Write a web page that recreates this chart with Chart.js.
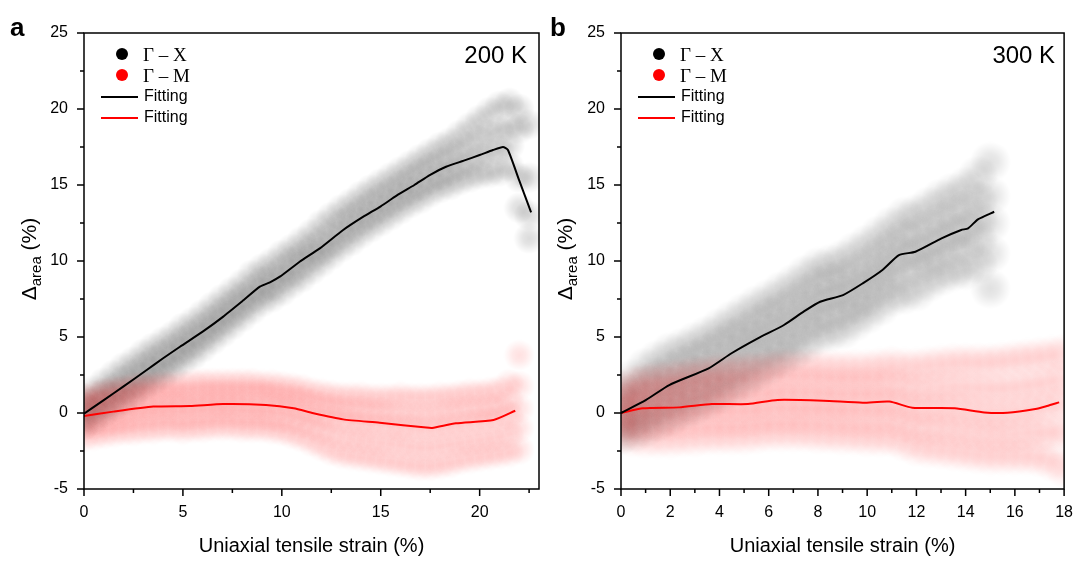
<!DOCTYPE html>
<html>
<head>
<meta charset="utf-8">
<script src="https://cdn.jsdelivr.net/npm/chart.js@4.4.1/dist/chart.umd.min.js"></script>
<style>
  body { margin: 0; background: #fff; }
  canvas { position: absolute; top: 0; }
</style>
</head>
<body>
<canvas id="chartA" width="543" height="561" style="left:0"></canvas>
<canvas id="chartB" width="544" height="561" style="left:543px"></canvas>
<script>
// tick values
const yTicks = [-5, 0, 5, 10, 15, 20, 25];
const yMinor = [-2.5, 2.5, 7.5, 12.5, 17.5, 22.5];
const xTicksA = [0, 5, 10, 15, 20];
const xMinorA = [2.5, 7.5, 12.5, 17.5, 22.5];
const xTicksB = [0, 2, 4, 6, 8, 10, 12, 14, 16, 18];
const xMinorB = [1, 3, 5, 7, 9, 11, 13, 15, 17];

// fitting curves, 200 K
const gxFitA = [[0,-0.05],[1,0.85],[2,1.75],[3.17,2.83],[4,3.6],[4.85,4.36],[6,5.35],[7.04,6.34],[8,7.35],[8.89,8.31],[9.4,8.6],[9.9,8.97],[10.9,9.95],[11.92,10.83],[13.1,12.04],[14.1,12.9],[15,13.6],[15.8,14.3],[16.7,15.0],[17.5,15.66],[18.3,16.2],[19.2,16.6],[20,16.97],[20.67,17.3],[21.18,17.5],[21.43,17.3],[22.0,15.3],[22.6,13.2]];
const gmFitA = [[0,-0.2],[1.48,0.09],[3.5,0.42],[5.35,0.46],[7.04,0.59],[9.2,0.53],[10.6,0.31],[11.6,-0.02],[13.1,-0.42],[14.95,-0.64],[17.3,-0.96],[17.6,-0.98],[18.8,-0.68],[20.7,-0.46],[21.8,0.15]];

// fitting curves, 300 K
const gxFitB = [[0,0],[1.02,0.86],[1.96,1.84],[3.56,2.94],[4.49,3.93],[5.56,4.91],[6.62,5.79],[7.42,6.67],[8.09,7.32],[9.02,7.76],[9.82,8.53],[10.62,9.41],[11.29,10.39],[11.96,10.61],[13.02,11.49],[13.82,12.04],[14.1,12.15],[14.5,12.74],[15.16,13.24]];
const gmFitB = [[0,0],[0.89,0.31],[2.36,0.37],[3.69,0.59],[5.16,0.59],[6.36,0.86],[8.22,0.81],[9.82,0.68],[10.9,0.75],[11.83,0.35],[13.56,0.31],[14.76,0.04],[15.7,0.02],[16.77,0.24],[17.3,0.46],[17.8,0.7]];

// measured scatter, 200 K: [strain, values...]
const gxDotsA = [
  [0,-0.8,-0.2,0.4,1.0],[0.5,-0.5,0.2,0.8,1.5],[1,0.0,0.6,1.3,2.0],[1.5,0.4,1.1,1.7,2.5],
  [2,0.8,1.5,2.2,3.0],[2.5,1.2,1.9,2.6,3.4],[3,1.7,2.4,3.1,3.9],[3.5,2.1,2.8,3.5,4.3],
  [4,2.5,3.2,3.9,4.7],[4.5,2.9,3.6,4.3,5.1],[5,3.4,4.1,4.8,5.6],[5.5,3.8,4.5,5.2,6.0],
  [6,4.3,5.0,5.7,6.5],[6.5,4.8,5.5,6.2,7.0],[7,5.3,6.0,6.7,7.5],[7.5,5.8,6.5,7.2,8.0],
  [8,6.3,7.0,7.7,8.5],[8.5,6.8,7.5,8.2,9.1],[9,7.3,8.0,8.7,9.5],[9.5,7.6,8.3,9.0,9.9],
  [10,8.0,8.8,9.5,10.4],[10.5,8.5,9.2,10.0,10.8],[11,8.9,9.7,10.4,11.3],[11.5,9.4,10.2,10.9,11.8],
  [12,9.9,10.6,11.4,12.4],[12.5,10.4,11.1,11.9,12.9],[13,10.9,11.7,12.5,13.4],[13.5,11.3,12.1,12.9,13.8],
  [14,11.8,12.6,13.4,14.3],[14.5,12.2,13.0,13.8,14.7],[15,12.6,13.4,14.2,15.1],[15.5,13.0,13.8,14.6,15.5],
  [16,13.4,14.2,15.0,15.9],[16.5,13.8,14.6,15.4,16.3],[17,14.1,14.9,15.8,16.7],[17.5,14.5,15.3,16.2,17.1],
  [18,14.8,15.6,16.5,17.5],[18.5,15.0,15.9,16.8,17.8],[19,15.3,16.2,17.2,18.3],[19.5,15.5,16.5,17.6,18.8],
  [20,15.7,16.8,18.0,19.3],[20.5,15.8,17.1,18.4,19.8],[21,15.9,17.3,18.6,20.2],[21.5,16.2,17.6,18.9,20.4],
  [22,13.5,15.5,18.7,20.0],[22.5,11.5,13.0,15.5,19.0]
];
const gmDotsA = [
  [0,-1.6,-0.9,-0.3,0.4,1.0],[0.5,-1.5,-0.8,-0.1,0.6,1.2],[1,-1.4,-0.7,0.0,0.7,1.4],[1.5,-1.3,-0.6,0.1,0.8,1.5],
  [2,-1.2,-0.5,0.2,0.9,1.6],[2.5,-1.2,-0.4,0.3,1.0,1.7],[3,-1.1,-0.3,0.4,1.1,1.8],[3.5,-1.1,-0.3,0.4,1.1,1.8],
  [4,-1.0,-0.2,0.5,1.2,1.9],[4.5,-1.0,-0.2,0.5,1.2,1.9],[5,-1.1,-0.3,0.5,1.2,1.9],[5.5,-1.0,-0.2,0.5,1.2,2.0],
  [6,-1.0,-0.2,0.6,1.3,2.0],[6.5,-0.9,-0.1,0.6,1.3,2.0],[7,-0.9,-0.1,0.6,1.3,2.0],[7.5,-0.9,-0.1,0.6,1.3,2.0],
  [8,-1.0,-0.2,0.6,1.3,2.0],[8.5,-1.0,-0.2,0.5,1.3,2.0],[9,-1.0,-0.2,0.5,1.3,1.9],[9.5,-1.1,-0.3,0.5,1.2,1.9],
  [10,-1.2,-0.4,0.4,1.1,1.8],[10.5,-1.4,-0.5,0.3,1.0,1.7],[11,-1.6,-0.7,0.1,0.9,1.6],[11.5,-1.9,-0.9,-0.1,0.7,1.4],
  [12,-2.2,-1.2,-0.3,0.5,1.3],[12.5,-2.5,-1.4,-0.4,0.4,1.2],[13,-2.7,-1.6,-0.5,0.3,1.1],[13.5,-2.8,-1.7,-0.6,0.2,1.1],
  [14,-2.9,-1.8,-0.7,0.2,1.1],[14.5,-3.0,-1.9,-0.8,0.1,1.0],[15,-3.1,-2.0,-0.8,0.1,1.0],[15.5,-3.2,-2.0,-0.9,0.0,1.0],
  [16,-3.3,-2.1,-1.0,0.0,1.1],[16.5,-3.4,-2.2,-1.0,-0.1,1.0],[17,-3.5,-2.3,-1.1,-0.1,1.0],[17.5,-3.5,-2.3,-1.1,-0.1,1.0],
  [18,-3.4,-2.2,-1.0,0.0,1.1],[18.5,-3.3,-2.1,-0.9,0.1,1.1],[19,-3.1,-2.0,-0.8,0.2,1.2],[19.5,-3.0,-1.9,-0.7,0.3,1.3],
  [20,-2.9,-1.8,-0.6,0.3,1.3],[20.5,-2.8,-1.7,-0.5,0.4,1.4],[21,-2.7,-1.6,-0.4,0.5,1.5],[21.5,-2.6,-1.4,-0.2,0.8,1.9],
  [22,-2.4,-1.0,0.3,1.8,3.8]
];

// measured scatter, 300 K
const gxDotsB = [
  [0,-1.5,-0.7,0.0,0.8,1.6],[0.5,-1.3,-0.5,0.4,1.3,2.3],[1,-1.0,-0.1,0.9,1.9,3.0],[1.5,-0.6,0.4,1.4,2.4,3.5],
  [2,-0.3,0.8,1.8,2.8,4.0],[2.5,0.1,1.2,2.2,3.2,4.3],[3,0.4,1.5,2.6,3.6,4.7],[3.5,0.8,1.9,2.9,4.0,5.1],
  [4,1.2,2.3,3.4,4.5,5.6],[4.5,1.7,2.8,3.9,5.0,6.1],[5,2.1,3.3,4.4,5.4,6.6],[5.5,2.6,3.8,4.9,5.9,7.1],
  [6,3.1,4.2,5.3,6.4,7.5],[6.5,3.5,4.6,5.7,6.8,8.0],[7,4.0,5.1,6.2,7.3,8.5],[7.5,4.5,5.7,6.8,7.9,9.1],
  [8,5.1,6.2,7.3,8.4,9.6],[8.5,5.3,6.5,7.6,8.7,9.8],[9,5.5,6.7,7.8,8.9,10.1],[9.5,6.0,7.1,8.2,9.3,10.6],
  [10,6.5,7.6,8.7,9.8,11.1],[10.5,7.0,8.2,9.3,10.4,11.7],[11,7.6,8.8,9.9,11.0,12.3],[11.5,7.8,9.2,10.5,11.6,12.9],
  [12,8.0,9.5,10.6,11.8,13.1],[12.5,8.6,9.9,11.0,12.2,13.6],[13,9.0,10.3,11.5,12.7,14.1],[13.5,9.3,10.7,11.9,13.1,14.5],
  [14,9.4,10.9,12.1,13.4,14.9],[14.5,9.8,11.4,12.7,14.0,15.6],[15,8.2,10.5,12.5,14.3,16.5]
];
const gmDotsB = [
  [0,-1.4,-0.6,0.0,0.7,1.5],[0.5,-1.6,-0.6,0.2,1.0,1.9],[1,-1.7,-0.6,0.3,1.2,2.1],[1.5,-1.7,-0.6,0.3,1.2,2.2],
  [2,-1.7,-0.6,0.4,1.3,2.3],[2.5,-1.6,-0.5,0.4,1.4,2.4],[3,-1.6,-0.5,0.5,1.5,2.5],[3.5,-1.5,-0.4,0.6,1.6,2.6],
  [4,-1.5,-0.4,0.6,1.6,2.7],[4.5,-1.5,-0.4,0.6,1.6,2.7],[5,-1.5,-0.4,0.6,1.7,2.8],[5.5,-1.4,-0.3,0.7,1.7,2.8],
  [6,-1.3,-0.2,0.8,1.8,2.9],[6.5,-1.3,-0.2,0.9,1.9,3.0],[7,-1.3,-0.2,0.8,1.9,3.0],[7.5,-1.3,-0.2,0.8,1.9,3.0],
  [8,-1.4,-0.2,0.8,1.9,3.0],[8.5,-1.4,-0.3,0.7,1.8,2.9],[9,-1.5,-0.3,0.7,1.8,2.9],[9.5,-1.5,-0.4,0.7,1.8,2.9],
  [10,-1.6,-0.4,0.7,1.8,2.9],[10.5,-1.6,-0.4,0.7,1.8,3.0],[11,-1.6,-0.4,0.7,1.9,3.1],[11.5,-1.9,-0.7,0.5,1.7,3.0],
  [12,-2.2,-0.9,0.3,1.6,3.0],[12.5,-2.3,-1.0,0.3,1.6,3.1],[13,-2.4,-1.0,0.3,1.7,3.2],[13.5,-2.5,-1.1,0.3,1.7,3.3],
  [14,-2.6,-1.2,0.2,1.7,3.3],[14.5,-2.7,-1.3,0.1,1.6,3.3],[15,-2.8,-1.4,0.0,1.6,3.3],[15.5,-2.8,-1.4,0.0,1.6,3.4],
  [16,-2.8,-1.4,0.1,1.7,3.5],[16.5,-2.8,-1.3,0.2,1.8,3.6],[17,-2.9,-1.3,0.3,1.9,3.7],[17.5,-3.2,-1.3,0.5,2.1,3.8],
  [18,-3.6,-1.2,0.7,2.3,3.9]
];

const SANS = '"Liberation Sans", Arial, sans-serif';
const SERIF = '"Liberation Serif", "Times New Roman", serif';

function toPoints(pairs) {
  return pairs.map(p => ({ x: p[0], y: p[1] }));
}

function dots(stations) {
  const pts = [];
  stations.forEach(s => s.slice(1).forEach(v => pts.push({ x: s[0], y: v })));
  return pts;
}

// soft round marker so overlapping points read as a hazy cloud
function softDot(rgb, alpha, r) {
  const c = document.createElement('canvas');
  c.width = c.height = r * 2;
  const g = c.getContext('2d');
  const grad = g.createRadialGradient(r, r, 0, r, r, r);
  grad.addColorStop(0, 'rgba(' + rgb + ',' + alpha + ')');
  grad.addColorStop(0.4, 'rgba(' + rgb + ',' + (alpha * 0.75) + ')');
  grad.addColorStop(0.75, 'rgba(' + rgb + ',' + (alpha * 0.3) + ')');
  grad.addColorStop(1, 'rgba(' + rgb + ',0)');
  g.fillStyle = grad;
  g.fillRect(0, 0, r * 2, r * 2);
  return c;
}

// frame, tick marks, legend and labels drawn on top of the chart
function panelPlugin(p) {
  return {
    id: 'panelDeco',
    afterDraw(chart) {
      const ctx = chart.ctx;
      const { left, right, top, bottom } = chart.chartArea;
      const xs = chart.scales.x, ys = chart.scales.y;
      ctx.save();
      ctx.strokeStyle = '#000';
      ctx.lineWidth = 1.5;
      ctx.strokeRect(left, top, right - left, bottom - top);

      ctx.beginPath();
      p.xTicks.forEach(v => { const px = xs.getPixelForValue(v); ctx.moveTo(px, bottom); ctx.lineTo(px, bottom + 7); });
      p.xMinor.forEach(v => { const px = xs.getPixelForValue(v); ctx.moveTo(px, bottom); ctx.lineTo(px, bottom + 4); });
      yTicks.forEach(v => { const py = ys.getPixelForValue(v); ctx.moveTo(left, py); ctx.lineTo(left - 7, py); });
      yMinor.forEach(v => { const py = ys.getPixelForValue(v); ctx.moveTo(left, py); ctx.lineTo(left - 4, py); });
      ctx.stroke();

      // legend
      ctx.fillStyle = '#000';
      ctx.beginPath(); ctx.arc(left + 38, top + 21, 6, 0, Math.PI * 2); ctx.fill();
      ctx.fillStyle = '#ff0000';
      ctx.beginPath(); ctx.arc(left + 38, top + 42, 6, 0, Math.PI * 2); ctx.fill();
      ctx.fillStyle = '#000';
      ctx.font = '19px ' + SERIF;
      ctx.textBaseline = 'alphabetic';
      ctx.textAlign = 'left';
      ctx.fillText('\u0393 \u2013 X', left + 59, top + 28);
      ctx.fillText('\u0393 \u2013 M', left + 59, top + 49);

      ctx.lineWidth = 2;
      ctx.strokeStyle = '#000';
      ctx.beginPath(); ctx.moveTo(left + 17, top + 64); ctx.lineTo(left + 54, top + 64); ctx.stroke();
      ctx.strokeStyle = '#ff0000';
      ctx.beginPath(); ctx.moveTo(left + 17, top + 85); ctx.lineTo(left + 54, top + 85); ctx.stroke();
      ctx.font = '16px ' + SANS;
      ctx.textBaseline = 'middle';
      ctx.fillText('Fitting', left + 60, top + 64);
      ctx.fillText('Fitting', left + 60, top + 85);

      // temperature
      ctx.font = '24px ' + SANS;
      ctx.textAlign = 'right';
      ctx.textBaseline = 'alphabetic';
      ctx.fillText(p.temp, right - p.tempInset, top + 30);

      // panel letter
      ctx.font = 'bold 26px ' + SANS;
      ctx.textAlign = 'left';
      ctx.fillText(p.letter, p.letterX, 36);

      // y title with subscript
      ctx.translate(p.yTitleX, 259);
      ctx.rotate(-Math.PI / 2);
      const big = '21px ' + SANS, small = '15px ' + SANS;
      ctx.font = big;
      const w1 = ctx.measureText('\u0394').width, w3 = ctx.measureText(' (%)').width;
      ctx.font = small;
      const w2 = ctx.measureText('area').width;
      let cx = -(w1 + w2 + w3) / 2;
      ctx.font = big; ctx.fillText('\u0394', cx, 0); cx += w1;
      ctx.font = small; ctx.fillText('area', cx, 5); cx += w2;
      ctx.font = big; ctx.fillText(' (%)', cx, 0);
      ctx.restore();
    }
  };
}

function makePanel(id, p) {
  new Chart(document.getElementById(id), {
    type: 'scatter',
    data: {
      datasets: [
        { label: 'Fitting', data: toPoints(p.gxFit), showLine: true, borderColor: '#000', borderWidth: 2, pointRadius: 0, tension: 0.2 },
        { label: 'Fitting', data: toPoints(p.gmFit), showLine: true, borderColor: '#ff0000', borderWidth: 2, pointRadius: 0, tension: 0.2 },
        { label: '\u0393 \u2013 M', data: dots(p.gmDots), pointStyle: softDot('255,0,0', p.redAlpha, p.dotR), pointRadius: p.dotR },
        { label: '\u0393 \u2013 X', data: dots(p.gxDots), pointStyle: softDot('0,0,0', p.greyAlpha, p.dotR), pointRadius: p.dotR }
      ]
    },
    options: {
      responsive: false,
      animation: false,
      layout: { autoPadding: false, padding: { top: 33, right: p.padRight, left: 0, bottom: 0 } },
      plugins: { legend: { display: false }, tooltip: { enabled: false } },
      scales: {
        x: {
          type: 'linear', min: 0, max: p.xMax,
          afterBuildTicks: s => { s.ticks = p.xTicks.map(v => ({ value: v })); },
          afterFit: s => { s.height = 72; },
          grid: { display: false, drawTicks: false },
          border: { display: false },
          ticks: { color: '#000', font: { family: SANS, size: 16 }, padding: 14 },
          title: { display: true, text: 'Uniaxial tensile strain (%)', color: '#000', font: { family: SANS, size: 20 }, padding: { top: 3, bottom: 3 } }
        },
        y: {
          type: 'linear', min: -5, max: 25,
          afterBuildTicks: s => { s.ticks = yTicks.map(v => ({ value: v })); },
          afterFit: s => { s.width = p.yWidth; },
          grid: { display: false, drawTicks: false },
          border: { display: false },
          ticks: { color: '#000', font: { family: SANS, size: 16 }, padding: 16 }
        }
      }
    },
    plugins: [panelPlugin(p)]
  });
}

makePanel('chartA', {
  gxFit: gxFitA, gmFit: gmFitA, gxDots: gxDotsA, gmDots: gmDotsA,
  xMax: 23, xTicks: xTicksA, xMinor: xMinorA,
  padRight: 4, yWidth: 84, temp: '200 K', tempInset: 12,
  letter: 'a', letterX: 10, yTitleX: 36,
  dotR: 16, greyAlpha: 0.14, redAlpha: 0.12
});
makePanel('chartB', {
  gxFit: gxFitB, gmFit: gmFitB, gxDots: gxDotsB, gmDots: gmDotsB,
  xMax: 18, xTicks: xTicksB, xMinor: xMinorB,
  padRight: 15, yWidth: 78, temp: '300 K', tempInset: 9,
  letter: 'b', letterX: 7, yTitleX: 29,
  dotR: 21, greyAlpha: 0.12, redAlpha: 0.1
});
</script>
</body>
</html>
